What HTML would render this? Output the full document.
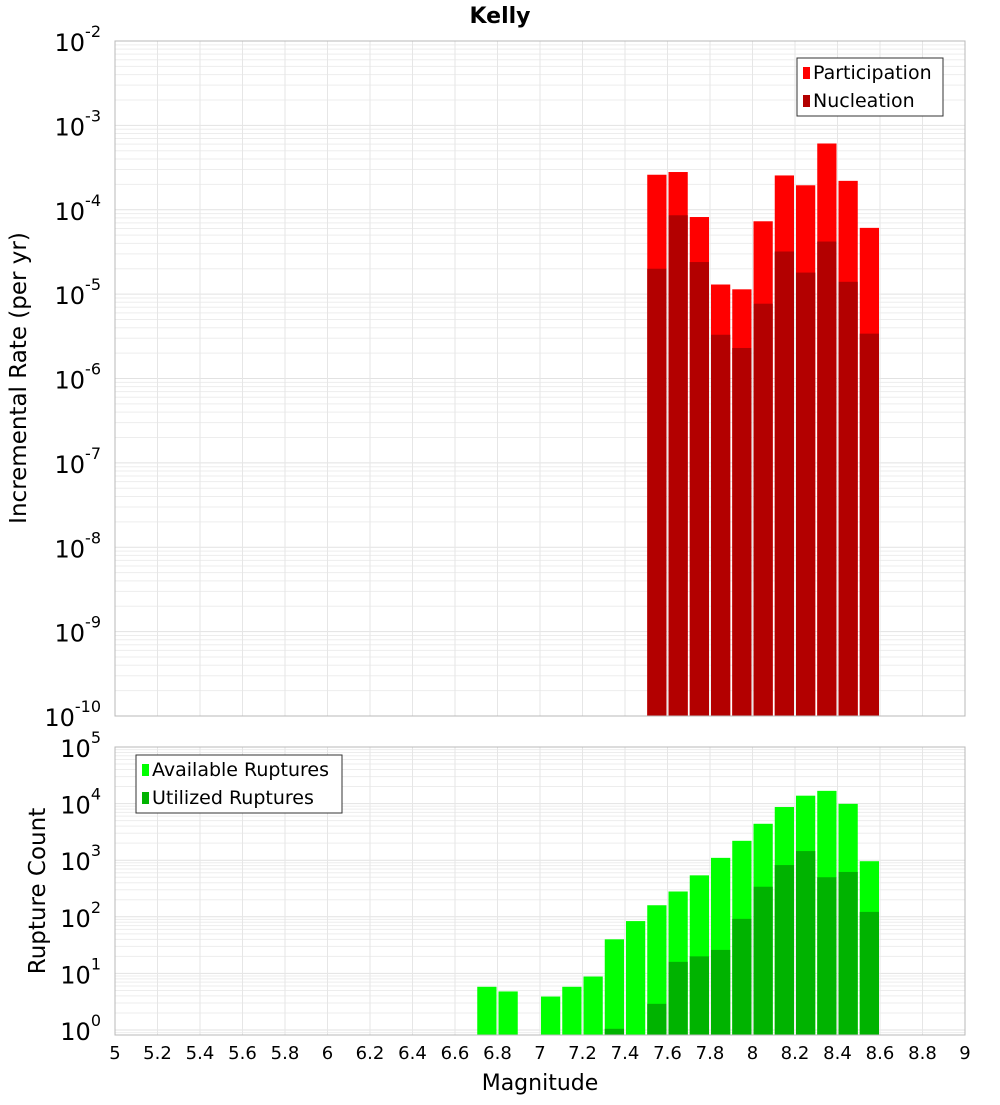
<!DOCTYPE html>
<html><head><meta charset="utf-8"><style>
body{margin:0;background:#fff;font-family:"Liberation Sans","DejaVu Sans",sans-serif}
</style></head><body>
<svg id="c" width="1000" height="1100" xmlns="http://www.w3.org/2000/svg" font-family="DejaVu Sans, Liberation Sans, sans-serif"></svg>
<script>
const bins=[7.55,7.65,7.75,7.85,7.95,8.05,8.15,8.25,8.35,8.45,8.55];
const participation=[2.6e-4,2.8e-4,8.2e-5,1.3e-5,1.14e-5,7.3e-5,2.55e-4,1.95e-4,6.1e-4,2.2e-4,6.1e-5];
const nucleation=[2.0e-5,8.6e-5,2.4e-5,3.3e-6,2.3e-6,7.7e-6,3.2e-5,1.8e-5,4.2e-5,1.4e-5,3.4e-6];
const countBins=[6.75,6.85,7.05,7.15,7.25,7.35,7.45,7.55,7.65,7.75,7.85,7.95,8.05,8.15,8.25,8.35,8.45,8.55];
const available=[5.8,4.8,3.9,5.8,8.8,40,84,160,280,540,1100,2200,4400,8700,13800,16800,9900,960];
const utilized=[0,0,0,0,0,1.05,0,2.9,16,20,26,92,340,820,1450,500,620,122];
const xTicks=[5,5.2,5.4,5.6,5.8,6,6.2,6.4,6.6,6.8,7,7.2,7.4,7.6,7.8,8,8.2,8.4,8.6,8.8,9];
const topExp=[-2,-3,-4,-5,-6,-7,-8,-9,-10];
const botExp=[5,4,3,2,1,0];

const S=document.getElementById('c');const NS='http://www.w3.org/2000/svg';
function el(t,a,p){const e=document.createElementNS(NS,t);for(const k in a)e.setAttribute(k,a[k]);(p||S).appendChild(e);return e;}
const X0=115,X1=965;
const x=m=>X0+(m-5)/4*(X1-X0);
const T0=41,T1=716;const yT=v=>T0+(-2-Math.log10(v))*(T1-T0)/8;
const B0=747,B1=1035;const yB=v=>1030-56.6*Math.log10(v);

function grid(top,bot,yf,eLo,eHi){
 for(let e=eLo;e<eHi;e++)for(let k=1;k<10;k++){const yy=yf(k*Math.pow(10,e));if(yy>=top&&yy<=bot){const l=el('line',{x1:X0,x2:X1,y1:yy,y2:yy,stroke:k==1?'#e2e2e2':'#ededed','stroke-width':1});}}
 xTicks.forEach(t=>{const l=el('line',{x1:x(t),x2:x(t),y1:top,y2:bot,stroke:'#e6e6e6'});});
}
grid(T0,T1,yT,-10,-1);
grid(B0,B1,yB,-1,5);

function bar(m,v,yf,bot,col,name){if(v<=0)return;const yy=yf(v);const r=el('rect',{x:x(m-0.05)+1,y:yy,width:x(m+0.05)-x(m-0.05)-2,height:bot-yy,fill:col});}
bins.forEach((m,i)=>bar(m,participation[i],yT,T1,'#ff0000','participation-bar'));
bins.forEach((m,i)=>bar(m,nucleation[i],yT,T1,'#b30000','nucleation-bar'));
countBins.forEach((m,i)=>bar(m,available[i],yB,B1,'#00ff00','available-bar'));
countBins.forEach((m,i)=>bar(m,utilized[i],yB,B1,'#00b300','utilized-bar'));

let f=el('rect',{x:X0,y:T0,width:X1-X0,height:T1-T0,fill:'none',stroke:'#b8b8b8'});
f=el('rect',{x:X0,y:B0,width:X1-X0,height:B1-B0,fill:'none',stroke:'#b8b8b8'});

function ylab(e,yy,name){const t=el('text',{x:101,y:yy+10,'text-anchor':'end','font-size':24});t.textContent='10';const s=el('tspan',{dy:-14,'font-size':16},t);s.textContent=e;}
topExp.forEach(e=>ylab(e,yT(Math.pow(10,e)),'y-tick-label'));
botExp.forEach(e=>ylab(e,yB(Math.pow(10,e)),'count-tick-label'));
xTicks.forEach(t=>{const tx=el('text',{x:x(t),y:1059,'text-anchor':'middle','font-size':18});tx.textContent=String(t);});

let t=el('text',{x:500,y:23,'text-anchor':'middle','font-size':22,'font-weight':'bold'});t.textContent='Kelly';
t=el('text',{x:540,y:1090,'text-anchor':'middle','font-size':22});t.textContent='Magnitude';
t=el('text',{x:0,y:0,'text-anchor':'middle','font-size':23,transform:'translate(26,378) rotate(-90)'});t.textContent='Incremental Rate (per yr)';
t=el('text',{x:0,y:0,'text-anchor':'middle','font-size':23,transform:'translate(45,891) rotate(-90)'});t.textContent='Rupture Count';

function legend(lx,ly,w,items,name){const g=el('g',{});
 el('rect',{x:lx,y:ly,width:w,height:58,fill:'#fff',stroke:'#333'},g);
 items.forEach((it,i)=>{el('rect',{x:lx+6,y:ly+9+i*28,width:7,height:12,fill:it[1]},g);const tt=el('text',{x:lx+16,y:ly+21+i*28,'font-size':19},g);tt.textContent=it[0];});}
legend(797,58,146,[['Participation','#ff0000'],['Nucleation','#b30000']],'rate-legend');
legend(136,755,206,[['Available Ruptures','#00ff00'],['Utilized Ruptures','#00b300']],'count-legend');
</script>
</body></html>
